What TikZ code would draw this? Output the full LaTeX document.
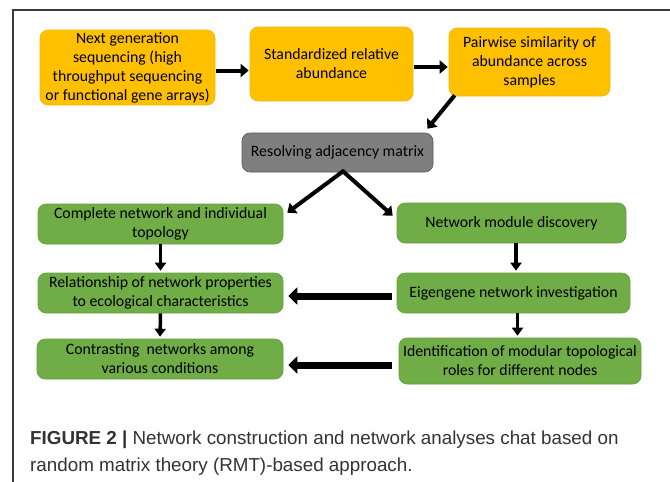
\documentclass[tikz,border=0pt]{standalone}
\usepackage{fontspec}
\setmainfont{Carlito}
\newfontfamily\capfont{Liberation Sans}
\usetikzlibrary{arrows.meta,calc}
\definecolor{boxorange}{HTML}{FFC000}
\definecolor{boxorangeedge}{HTML}{F2B800}
\definecolor{boxgreen}{HTML}{70AD47}
\definecolor{boxgreenedge}{HTML}{64A03E}
\definecolor{boxgray}{HTML}{7F7F7F}
\definecolor{boxgrayedge}{HTML}{5A5A5A}
\definecolor{framegray}{HTML}{3A3A3A}
\definecolor{captext}{HTML}{333333}
\tikzset{
  box/.style={rounded corners=8pt, align=center, inner sep=0pt,
    font=\fontsize{15.8}{19}\selectfont, text=black, line width=0.6pt},
  obox/.style={box, fill=boxorange, draw=boxorangeedge},
  gbox/.style={box, fill=boxgreen, draw=boxgreenedge},
  graybox/.style={box, fill=boxgray, draw=boxgrayedge},
  arr/.style={draw=black, line width=4pt, -{Triangle[length=8pt,width=13pt]}},
  thinarr/.style={draw=black, line width=3.5pt, -{Triangle[length=8pt,width=11pt]}},
  fatarr/.style={draw=black, line width=7pt, -{Triangle[length=9pt,width=17pt]}},
  captxt/.style={anchor=base west, inner sep=0pt, text=captext, font=\capfont\fontsize{18.8}{27}\selectfont},
}
\begin{document}
\begin{tikzpicture}[x=1pt,y=-1pt]
\fill[white] (0,0) rectangle (670,482);
\useasboundingbox (0,0) rectangle (670,482);
\draw[framegray, line width=1.4pt] (13,482) -- (13,10) -- (670,10);

\node[obox, minimum width=175pt, minimum height=75pt] (b1) at (127.5,67.5)
  {Next generation\\sequencing (high\\throughput sequencing\\or functional gene arrays)};
\node[obox, minimum width=163pt, minimum height=74pt] (b2) at (331.5,64)
  {Standardized relative\\abundance};
\node[obox, minimum width=161pt, minimum height=68pt] (b3) at (529.5,62)
  {Pairwise similarity of\\abundance across\\samples};
\node[graybox, minimum width=191pt, minimum height=39pt] (g) at (337.5,152.5)
  {Resolving adjacency matrix};

\node[gbox, minimum width=245pt, minimum height=40pt] (l1) at (160.5,224)
  {Complete network and individual\\topology};
\node[gbox, minimum width=245pt, minimum height=40pt] (l2) at (160.5,293)
  {Relationship of network properties\\to ecological characteristics};
\node[gbox, minimum width=246pt, minimum height=40pt] (l3) at (160,359)
  {Contrasting\ \ networks among\\various conditions};
\node[gbox, minimum width=229pt, minimum height=40pt] (r1) at (511.5,223)
  {Network module discovery};
\node[gbox, minimum width=233pt, minimum height=40pt] (r2) at (513.5,293)
  {Eigengene network investigation};
\node[gbox, minimum width=242pt, minimum height=46pt] (r3) at (520,361)
  {Identification of modular topological\\roles for different nodes};

\draw[arr, shorten <=1pt, shorten >=1pt] ([yshift=-3pt]b1.east) -- ([yshift=-3pt]b1.east -| b2.west);
\draw[arr, shorten <=1pt, shorten >=1pt] ([yshift=-3pt]b2.east) -- ([yshift=-3pt]b2.east -| b3.west);
\draw[arr] ([xshift=6pt,yshift=1pt]b3.south west) -- ([xshift=-6pt,yshift=4pt]g.north east);

\coordinate (gs) at ([xshift=5.5pt,yshift=1pt]g.south);
\draw[arr, line cap=round] (gs) -- ([xshift=4pt,yshift=-9pt]l1.north east);
\draw[arr, line cap=round] (gs) -- ([xshift=-4pt,yshift=-13pt]r1.north west);

\draw[thinarr, shorten >=2pt] (l1.south) -- (l2.north);
\draw[thinarr, shorten >=2pt] (l2.south) -- (l3.north);
\draw[thinarr, shorten >=2pt] ([xshift=4.5pt]r1.south) -- ([xshift=4.5pt]r1.south |- r2.north);
\draw[thinarr, shorten >=2pt] ([xshift=4pt]r2.south) -- ([xshift=4pt]r2.south |- r3.north);

\draw[fatarr, shorten <=5pt, shorten >=5pt] ([yshift=-3pt]r2.west) -- ([yshift=-3pt]r2.west -| l2.east);
\draw[fatarr, shorten <=7pt, shorten >=5pt] ([yshift=-4pt]r3.west) -- ([yshift=-4pt]r3.west -| l3.east);

\node[captxt] (cap1) at (30,444)
  {\textbf{FIGURE 2 |} Network construction and network analyses chat based on};
\node[captxt] (cap2) at (30,471)
  {random matrix theory (RMT)-based approach.};
\end{tikzpicture}
\end{document}
